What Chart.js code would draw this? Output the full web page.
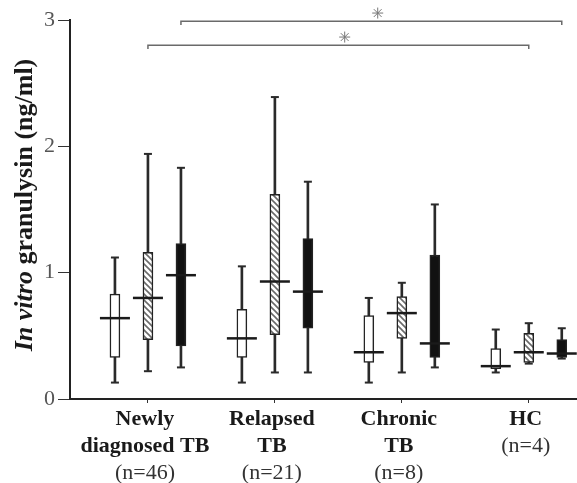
<!DOCTYPE html>
<html>
<head>
<meta charset="utf-8">
<script src="https://cdn.jsdelivr.net/npm/chart.js@4.4.1/dist/chart.umd.min.js"></script>
<style>
  html, body { margin: 0; padding: 0; background: #fff; }
  #wrap { width: 577px; height: 483px; }
</style>
</head>
<body>
<div id="wrap"><canvas id="boxChart"></canvas></div>
<script>
// groups along the x axis
const groupNames = [['Newly', 'diagnosed TB'], ['Relapsed', 'TB'], ['Chronic', 'TB'], ['HC']];
const groupN = ['(n=46)', '(n=21)', '(n=8)', '(n=4)'];
const groupX = [1, 2, 3, 4];
const yTicks = [0, 1, 2, 3];

// white boxes
const whiteMin = [0.13, 0.13, 0.13, 0.21];
const whiteQ1 = [0.33, 0.33, 0.29, 0.24];
const whiteMed = [0.64, 0.48, 0.37, 0.26];
const whiteQ3 = [0.83, 0.71, 0.66, 0.40];
const whiteMax = [1.12, 1.05, 0.80, 0.55];

// hatched boxes
const hatchMin = [0.22, 0.21, 0.21, 0.28];
const hatchQ1 = [0.47, 0.51, 0.48, 0.29];
const hatchMed = [0.80, 0.93, 0.68, 0.37];
const hatchQ3 = [1.16, 1.62, 0.81, 0.52];
const hatchMax = [1.94, 2.39, 0.92, 0.60];

// black boxes
const blackMin = [0.25, 0.21, 0.25, 0.32];
const blackQ1 = [0.42, 0.56, 0.33, 0.33];
const blackMed = [0.98, 0.85, 0.44, 0.36];
const blackQ3 = [1.23, 1.27, 1.14, 0.47];
const blackMax = [1.83, 1.72, 1.54, 0.56];

// significance brackets: which series, from group, to group, height
const sigSeries = [1, 2];
const sigFrom = [1, 1];
const sigTo = [4, 4];
const sigLevel = [2.80, 2.99];

const seriesOffset = [-0.26, 0, 0.26];
const serif = "'Liberation Serif', 'DejaVu Serif', serif";

const series = [
  { min: whiteMin, q1: whiteQ1, med: whiteMed, q3: whiteQ3, max: whiteMax },
  { min: hatchMin, q1: hatchQ1, med: hatchMed, q3: hatchQ3, max: hatchMax },
  { min: blackMin, q1: blackQ1, med: blackMed, q3: blackQ3, max: blackMax }
];

function makeHatch(ctx) {
  const c = document.createElement('canvas');
  c.width = 6; c.height = 6;
  const g = c.getContext('2d');
  g.fillStyle = '#fff';
  g.fillRect(0, 0, 6, 6);
  g.strokeStyle = '#6a6a6a';
  g.lineWidth = 1.6;
  g.beginPath();
  g.moveTo(0, 0); g.lineTo(6, 6);
  g.moveTo(-3, 3); g.lineTo(3, 9);
  g.moveTo(3, -3); g.lineTo(9, 3);
  g.stroke();
  return ctx.createPattern(c, 'repeat');
}

const canvas = document.getElementById('boxChart');
const ctx = canvas.getContext('2d');
const boxFills = ['#ffffff', makeHatch(ctx), '#111111'];

function xOf(s, i) {
  return groupX[i] + seriesOffset[s];
}

const whiskerData = [], capData = [], medianData = [];
series.forEach((sr, s) => {
  groupX.forEach((g, i) => {
    whiskerData.push({ x: xOf(s, i), y: [sr.min[i], sr.max[i]] });
    capData.push({ x: xOf(s, i), y: sr.min[i] });
    capData.push({ x: xOf(s, i), y: sr.max[i] });
    medianData.push({ x: xOf(s, i), y: sr.med[i] });
  });
});

const datasets = [];

datasets.push({
  type: 'bar',
  data: whiskerData,
  backgroundColor: '#2a2a2a',
  barThickness: 2,
  grouped: false,
  order: 10
});

series.forEach((sr, s) => {
  datasets.push({
    type: 'bar',
    data: groupX.map((g, i) => ({ x: xOf(s, i), y: [sr.q1[i], sr.q3[i]] })),
    backgroundColor: boxFills[s],
    borderColor: '#222',
    borderWidth: 1.5,
    borderSkipped: false,
    barThickness: 10,
    grouped: false,
    order: 5
  });
});

datasets.push({
  type: 'scatter',
  data: capData,
  pointStyle: 'line',
  pointRadius: 4,
  borderColor: '#2a2a2a',
  borderWidth: 2,
  order: 2
});

datasets.push({
  type: 'scatter',
  data: medianData,
  pointStyle: 'line',
  pointRadius: 15,
  borderColor: '#1a1a1a',
  borderWidth: 2.5,
  order: 1
});

// brackets
const starPts = [];
sigLevel.forEach((lvl, k) => {
  const x1 = groupX[sigFrom[k] - 1] + seriesOffset[sigSeries[k]];
  const x2 = groupX[sigTo[k] - 1] + seriesOffset[sigSeries[k]];
  datasets.push({
    type: 'line',
    data: [{ x: x1, y: lvl - 0.03 }, { x: x1, y: lvl }, { x: x2, y: lvl }, { x: x2, y: lvl - 0.03 }],
    borderColor: '#6a6a6a',
    borderWidth: 1.5,
    pointRadius: 0,
    fill: false,
    clip: false,
    order: 3
  });
  starPts.push({ x: (x1 + x2) / 2 + 0.05, y: lvl + 0.065 });
});

// asterisks sit above the plot top, so they are drawn here with the scales
const sigStars = {
  id: 'sigStars',
  afterDatasetsDraw(chart) {
    const c = chart.ctx;
    const xs = chart.scales.x, ys = chart.scales.y;
    c.save();
    c.strokeStyle = '#777';
    c.fillStyle = '#777';
    starPts.forEach(p => {
      Chart.helpers.drawPoint(c, { pointStyle: 'star', radius: 5.5, borderWidth: 1.6, rotation: 0 },
        xs.getPixelForValue(p.x), ys.getPixelForValue(p.y));
    });
    c.restore();
  }
};

const axisTitle = {
  id: 'axisTitle',
  afterDraw(chart) {
    const c = chart.ctx;
    c.save();
    // y axis title, italic first part
    c.translate(25, 205);
    c.rotate(-Math.PI / 2);
    c.fillStyle = '#1a1a1a';
    c.textBaseline = 'middle';
    const p1 = 'In vitro ';
    const p2 = 'granulysin (ng/ml)';
    c.font = 'italic bold 26px ' + serif;
    const w1 = c.measureText(p1).width;
    c.font = 'bold 26px ' + serif;
    const w2 = c.measureText(p2).width;
    const x0 = -(w1 + w2) / 2;
    c.font = 'italic bold 26px ' + serif;
    c.fillText(p1, x0, 0);
    c.font = 'bold 26px ' + serif;
    c.fillText(p2, x0 + w1, 0);
    c.restore();

    // x labels: bold group names, plain n line
    const xs = chart.scales.x;
    c.save();
    c.textAlign = 'center';
    c.textBaseline = 'alphabetic';
    groupX.forEach((g, i) => {
      const px = xs.getPixelForValue(g) - 3;
      let y = 425;
      c.fillStyle = '#1a1a1a';
      c.font = 'bold 22px ' + serif;
      groupNames[i].forEach(line => {
        c.fillText(line, px, y);
        y += 27;
      });
      c.font = '22px ' + serif;
      c.fillStyle = '#333';
      c.fillText(groupN[i], px, y);
    });
    c.restore();
  }
};

new Chart(canvas, {
  type: 'bar',
  data: { datasets: datasets },
  options: {
    responsive: true,
    maintainAspectRatio: false,
    animation: false,
    layout: { autoPadding: false, padding: { top: 20, right: 0, left: 0, bottom: 0 } },
    plugins: {
      legend: { display: false },
      tooltip: { enabled: false }
    },
    scales: {
      x: {
        type: 'linear',
        min: 0.386,
        max: 4.38,
        offset: false,
        afterBuildTicks: s => { s.ticks = groupX.map(v => ({ value: v })); },
        afterFit: s => { s.height = 84; s.paddingLeft = 0; s.paddingRight = 0; },
        ticks: { callback: () => '' },
        grid: { drawOnChartArea: false, offset: false, tickLength: 4, color: '#333' },
        border: { color: '#222', width: 2 }
      },
      y: {
        min: 0,
        max: 3,
        afterBuildTicks: s => { s.ticks = yTicks.map(v => ({ value: v })); },
        afterFit: s => { s.width = 70; },
        ticks: {
          color: '#555',
          padding: 3,
          font: { family: serif, size: 22 }
        },
        grid: { drawOnChartArea: false, tickLength: 12, color: '#333' },
        border: { color: '#222', width: 2 }
      }
    }
  },
  plugins: [sigStars, axisTitle]
});
</script>
</body>
</html>
